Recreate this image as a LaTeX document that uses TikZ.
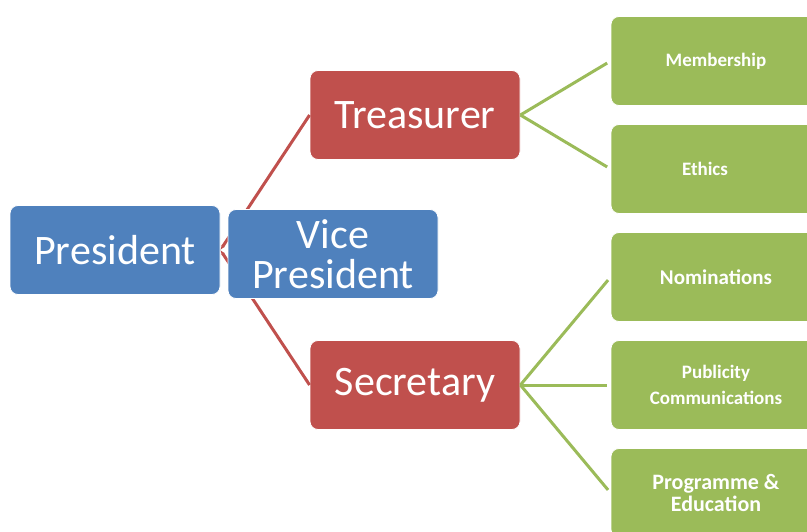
\documentclass[tikz,border=0pt]{standalone}
\usepackage{fontspec}
\setmainfont{Carlito}
\usetikzlibrary{arrows.meta}
\definecolor{presblue}{HTML}{4F81BD}
\definecolor{offred}{HTML}{C0504D}
\definecolor{comgreen}{HTML}{9BBB59}

\begin{document}
\begin{tikzpicture}[x=1pt,y=-1pt,line join=round,>={Latex[length=5pt,width=4pt]},
    box/.style={draw=white,line width=0.8pt,rounded corners=8pt,minimum width=210pt,
      minimum height=89pt,text=white,align=center,inner sep=0pt},
    head/.style={box,fill=presblue,font=\fontsize{42}{40}\selectfont},
    officer/.style={box,fill=offred,font=\fontsize{42}{40}\selectfont},
    committee/.style={box,fill=comgreen,font=\bfseries\fontsize{19}{26}\selectfont},
    redline/.style={offred,line width=3pt},
    greenline/.style={comgreen,line width=3pt,shorten >=4pt}]
      \useasboundingbox (0,0) rectangle (807,531);
      \clip (0,0) rectangle (807,531);
      % top of the tree
      \node[head] (pres) at (115,250) {President};
      \node[officer] (treas) at (415,115) {Treasurer};
      \node[officer] (sec) at (415,385) {Secretary};
      \draw[redline,<-] (pres.east)--(treas.west);
      \draw[redline,<-] (pres.east)--(sec.west);
      \node[head] (vice) at (333,254) {Vice\\President};
      % committees
      \node[committee] (memb) at (716,61) {Membership};
      \node[committee] (eth) at (716,169) {Ethics\hspace{22pt}};
      \node[committee,font=\bfseries\fontsize{21}{26}\selectfont] (nom) at (716,277) {Nominations};
      \node[committee] (pub) at (716,385) {Publicity\\Communications};
      \node[committee,font=\bfseries\fontsize{22}{22}\selectfont] (prog) at (716,493) {Programme \&\\Education};
      \draw[greenline] (treas.east)--(memb.west);
      \draw[greenline] (treas.east)--(eth.west);
      \draw[greenline] (sec.east)--(nom.west);
      \draw[greenline] (sec.east)--(pub.west);
      \draw[greenline] (sec.east)--(prog.west);
    \end{tikzpicture}
\end{document}
